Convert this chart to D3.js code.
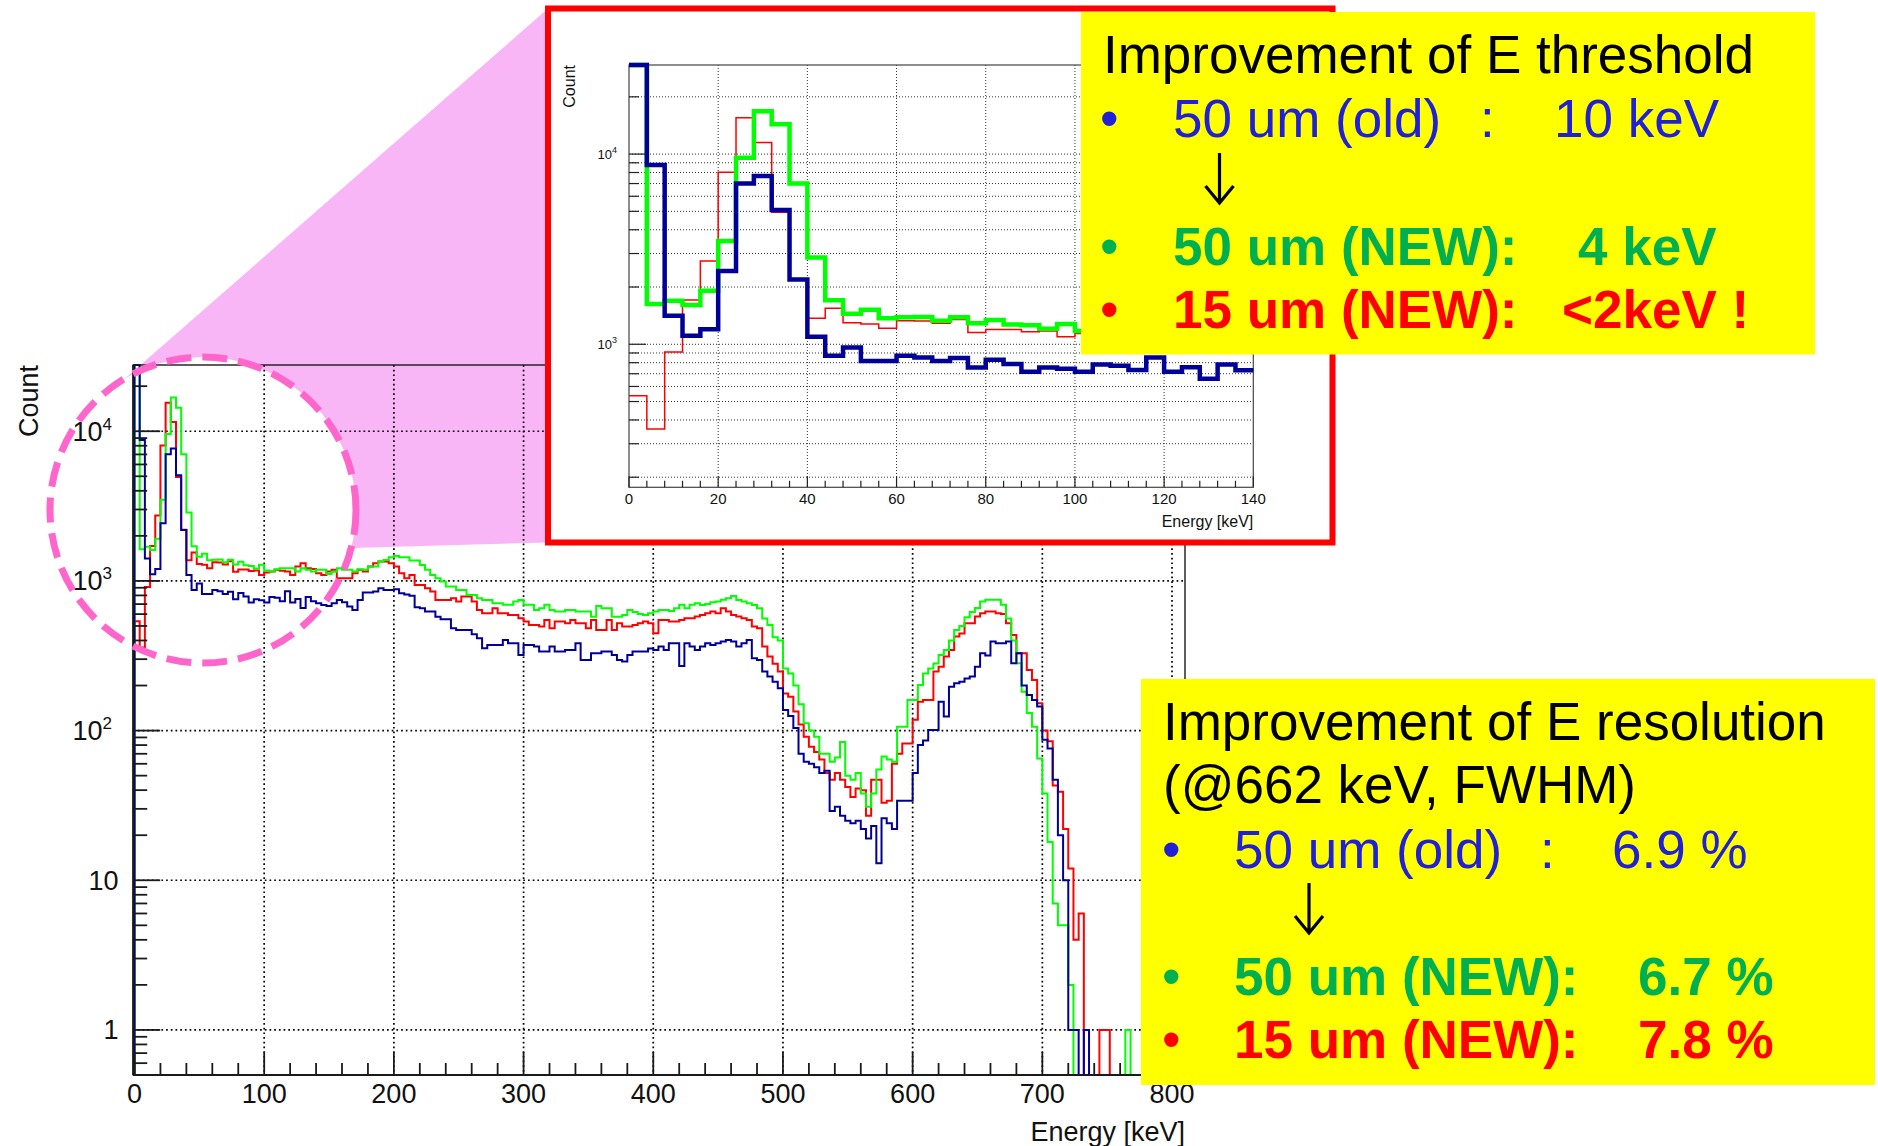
<!DOCTYPE html>
<html>
<head>
<meta charset="utf-8">
<title>Energy spectra – threshold and resolution</title>
<script src="https://cdn.jsdelivr.net/npm/d3@7"></script>
<style>
  html, body { margin: 0; padding: 0; background: #fff; }
  svg { display: block; }
  text { font-family: "Liberation Sans", Arial, Helvetica, sans-serif; }
</style>
</head>
<body>
<svg id="fig" width="1878" height="1146"></svg>
<script>
// ---------------------------------------------------------------
// Spectrum data: counts per 4 keV bin, bins start at 0 keV (200 bins).
// ---------------------------------------------------------------
const binWidthKeV = 4;

// 50 um pixel, old readout
const countsOld50 = [
  35000, 8750, 1413, 1109, 1200, 2427, 7010, 7660, 5080, 2190,   //   0
  1094, 871, 962, 817, 817, 871, 853, 817, 846, 755,             //  40
  830, 788, 717, 755, 743, 717, 782, 771, 732, 853,              //  80
  717, 758, 658, 782, 730, 709, 690, 681, 709, 746,              // 120
  720, 674, 640, 746, 836, 836, 850, 893, 870, 870,              // 160
  880, 827, 810, 795, 667, 656, 624, 624, 577, 554,              // 200
  554, 482, 470, 470, 470, 440, 414, 355, 373, 373,              // 240
  373, 403, 383, 383, 320, 373, 373, 364, 337, 337,              // 280
  364, 337, 337, 346, 346, 383, 296, 296, 328, 328,              // 320
  337, 337, 320, 296, 290, 320, 337, 337, 337, 354,              // 360
  346, 364, 346, 383, 383, 270, 383, 364, 346, 364,              // 400
  383, 373, 383, 393, 403, 393, 364, 383, 403, 304,              // 440
  296, 248, 230, 212, 192, 137, 125, 104, 70, 62,                // 480
  60, 57, 52, 54, 29, 31, 27, 25, 24, 25,                        // 520
  22, 19, 23, 13, 26, 24, 22, 34, 34, 34,                        // 560
  52, 80, 86, 101, 101, 156, 124, 196, 207, 212,                 // 600
  223, 230, 267, 328, 318, 393, 383, 383, 394, 282,              // 640
  329, 200, 173, 160, 145, 87, 76, 47, 20, 10,                   // 680
  1, 1, 0, 1, 0, 0, 0, 0, 0, 0,                                  // 720
  0, 0, 0, 0, 0, 0, 0, 0, 0, 0                                   // 760
];

// 50 um pixel, new readout
const countsNew50 = [
  35000, 1630, 1694, 1608, 1913, 3490, 9570, 16820, 14330, 7010, //   0
  2860, 1702, 1449, 1520, 1372, 1385, 1390, 1330, 1385, 1288,     //  40
  1342, 1272, 1260, 1208, 1280, 1175, 1155, 1197, 1216, 1216,     //  80
  1216, 1155, 1216, 1185, 1155, 1185, 1185, 1114, 1150, 1216,     // 120
  1185, 1185, 1155, 1197, 1185, 1247, 1247, 1346, 1381, 1440,     // 160
  1469, 1440, 1440, 1370, 1370, 1279, 1185, 1097, 1040, 990,      // 200
  917, 917, 871, 871, 806, 806, 766, 746, 746, 709,               // 240
  709, 692, 692, 728, 746, 692, 692, 640, 657, 692,               // 280
  640, 624, 624, 640, 640, 624, 624, 624, 577, 681,               // 320
  657, 657, 577, 577, 593, 640, 620, 600, 593, 608,               // 360
  625, 640, 640, 630, 657, 692, 657, 692, 709, 690,               // 400
  700, 720, 728, 747, 766, 794, 746, 728, 709, 690,               // 440
  657, 560, 508, 420, 400, 260, 241, 200, 150, 112,               // 480
  100, 91, 70, 70, 62, 66, 84, 50, 47, 52,                        // 520
  38, 31, 38, 55, 67, 64, 62, 106, 106, 160,                      // 560
  160, 202, 241, 260, 281, 320, 346, 400, 470, 500,               // 600
  571, 620, 660, 728, 747, 747, 747, 692, 560, 400,               // 640
  282, 182, 131, 106, 65, 38, 18, 7, 5, 5,                        // 680
  2, 0, 0, 0, 0, 0, 0, 0, 0, 0,                                   // 720
  0, 1, 0, 0, 0, 0, 0, 0, 0, 0                                    // 760
];

// 15 um pixel, new readout
const countsNew15 = [
  537, 359, 912, 1710, 2740, 8030, 15520, 11510, 4940, 2200,     //   0
  1372, 1547, 1297, 1280, 1215, 1330, 1325, 1288, 1351, 1153,    //  40
  1194, 1194, 1163, 1175, 1094, 1140, 1155, 1185, 1170, 1155,    //  80
  1097, 1247, 1312, 1216, 1200, 1125, 1097, 1155, 1185, 1042,    // 120
  1042, 1042, 1125, 1185, 1155, 1247, 1312, 1346, 1346, 1312,    // 160
  1247, 1125, 1042, 1097, 940, 940, 893, 849, 746, 746,          // 200
  746, 766, 728, 786, 786, 728, 640, 608, 608, 657,              // 240
  608, 608, 593, 593, 563, 535, 508, 508, 495, 548,              // 280
  482, 535, 535, 521, 548, 521, 521, 482, 548, 470,              // 320
  470, 548, 470, 521, 495, 495, 508, 521, 535, 521,              // 360
  447, 548, 548, 535, 535, 548, 563, 563, 578, 593,              // 400
  608, 624, 608, 657, 624, 593, 578, 562, 549, 495,              // 440
  482, 364, 312, 280, 248, 177, 168, 134, 110, 91,               // 480
  78, 72, 64, 52, 47, 52, 47, 42, 36, 41,                        // 520
  40, 27, 47, 47, 33, 34, 60, 70, 82, 82,                        // 560
  118, 156, 160, 160, 248, 267, 312, 346, 425, 446,              // 600
  521, 521, 578, 608, 624, 624, 608, 600, 521, 435,              // 640
  329, 329, 254, 218, 152, 100, 85, 43, 39, 22,                  // 680
  12, 4, 6, 0, 0, 0, 1, 1, 0, 0,                                 // 720
  0, 0, 0, 0, 0, 0, 0, 0, 0, 0                                   // 760
];

// Axis ticks
const mainEnergyTicks = [0, 100, 200, 300, 400, 500, 600, 700, 800];
const mainCountTicks = [1, 10, 100, 1000, 10000];
const insetEnergyTicks = [0, 20, 40, 60, 80, 100, 120, 140];
const insetCountTicks = [1000, 10000];

// Annotation text
const detectorLabels = ["50 um (old)", "50 um (NEW)", "15 um (NEW)"];
const thresholdValues = ["10 keV", "4 keV", "<2keV !"];
const resolutionValues = ["6.9 %", "6.7 %", "7.8 %"];

// ---------------------------------------------------------------
// Styling
// ---------------------------------------------------------------
const seriesStyle = [
  { counts: countsNew15, color: "#ff0000", mainWidth: 2, insetWidth: 1.5 },
  { counts: countsNew50, color: "#00ff00", mainWidth: 2, insetWidth: 4.5 },
  { counts: countsOld50, color: "#000099", mainWidth: 2, insetWidth: 4.5 }
];
const textColors = ["#2020d8", "#00b050", "#ff0000"];
const axisColor = "#1a1a1a";
const boxFont = 53;

const svg = d3.select("#fig");
svg.append("rect").attr("width", 1878).attr("height", 1146).attr("fill", "#ffffff");

// ---------------------------------------------------------------
// Scales
// ---------------------------------------------------------------
const xMain = d3.scaleLinear().domain([-1, 810]).range([133.2, 1185]);
const yMain = d3.scaleLog().domain([0.5, 27700]).range([1075, 365]);
const xIn = d3.scaleLinear().domain([0, 140]).range([629, 1253.3]);
const yIn = d3.scaleLog().domain([177, 29400]).range([487.3, 65]);

const insetBox = { x0: 548, y0: 8.5, x1: 1332.5, y1: 542.5 };

// Log-axis ticks: every m*10^e inside the domain
function logTicks(domain) {
  const out = [];
  const e0 = Math.floor(Math.log10(domain[0]));
  const e1 = Math.ceil(Math.log10(domain[1]));
  for (let e = e0; e <= e1; e++) {
    for (let m = 1; m <= 9; m++) {
      const v = +(m * Math.pow(10, e)).toPrecision(6);
      if (v >= domain[0] * 0.999 && v <= domain[1]) out.push({ v, major: m === 1 });
    }
  }
  return out;
}

// ROOT-style step outline of a histogram
function stepPath(counts, x, y, eMax, fromBase) {
  const [lo, hi] = y.domain();
  const clamp = v => Math.min(hi, Math.max(lo, v));
  const pts = [];
  if (fromBase) pts.push([x(0), y(lo)]);
  counts.forEach((c, i) => {
    const e0 = i * binWidthKeV;
    const e1 = e0 + binWidthKeV;
    if (e0 >= eMax) return;
    const yy = y(clamp(c));
    pts.push([x(e0), yy], [x(Math.min(e1, eMax)), yy]);
  });
  return d3.line()(pts);
}

// ---------------------------------------------------------------
// Highlight of the low-energy region and its connector to the zoom panel
// ---------------------------------------------------------------
const focus = { cx: 203, cy: 510, r: 153 };
svg.append("path")
  .attr("d", `M${insetBox.x0},${insetBox.y0} L105,396 L352,548 L${insetBox.x0},${insetBox.y1} Z`)
  .attr("fill", "#f9b6f6");
svg.append("circle")
  .attr("cx", focus.cx).attr("cy", focus.cy).attr("r", focus.r)
  .attr("fill", "#ffffff");

// ---------------------------------------------------------------
// Main spectrum
// ---------------------------------------------------------------
const main = svg.append("g");
const mx0 = xMain.range()[0], mx1 = xMain.range()[1];
const my0 = yMain.range()[0], my1 = yMain.range()[1];

// dotted grid
main.append("g").selectAll("line").data(mainEnergyTicks.filter(d => d > 0)).join("line")
  .attr("x1", d => xMain(d)).attr("x2", d => xMain(d))
  .attr("y1", my1).attr("y2", my0)
  .attr("stroke", "#000").attr("stroke-width", 1.7).attr("stroke-dasharray", "1.7,3");
main.append("g").selectAll("line").data(mainCountTicks).join("line")
  .attr("x1", mx0).attr("x2", mx1)
  .attr("y1", d => yMain(d)).attr("y2", d => yMain(d))
  .attr("stroke", "#000").attr("stroke-width", 1.7).attr("stroke-dasharray", "1.7,3");

// histograms
main.append("g").selectAll("path").data(seriesStyle).join("path")
  .attr("d", s => stepPath(s.counts, xMain, yMain, 800, true))
  .attr("fill", "none").attr("stroke", s => s.color)
  .attr("stroke-width", s => s.mainWidth).attr("stroke-linejoin", "miter");

// frame
main.append("rect")
  .attr("x", mx0).attr("y", my1).attr("width", mx1 - mx0).attr("height", my0 - my1)
  .attr("fill", "none").attr("stroke", axisColor).attr("stroke-width", 1.4);
main.append("line").attr("x1", mx0).attr("x2", mx0).attr("y1", my1).attr("y2", my0)
  .attr("stroke", axisColor).attr("stroke-width", 2);
main.append("line").attr("x1", mx0).attr("x2", mx1).attr("y1", my0).attr("y2", my0)
  .attr("stroke", axisColor).attr("stroke-width", 2);

// y ticks
main.append("g").selectAll("line").data(logTicks(yMain.domain())).join("line")
  .attr("x1", mx0).attr("x2", d => mx0 + (d.major ? 27 : 14))
  .attr("y1", d => yMain(d.v)).attr("y2", d => yMain(d.v))
  .attr("stroke", axisColor).attr("stroke-width", 1.8);

// x ticks (major every 100 keV, minor every 20 keV)
const xMinor = d3.range(0, 801, 20);
main.append("g").selectAll("line").data(xMinor).join("line")
  .attr("x1", d => xMain(d)).attr("x2", d => xMain(d))
  .attr("y1", my0).attr("y2", d => my0 - (d % 100 === 0 ? 23 : 12))
  .attr("stroke", axisColor).attr("stroke-width", 1.8);

// x tick labels
main.append("g").selectAll("text").data(mainEnergyTicks).join("text")
  .attr("x", d => xMain(d)).attr("y", 1103)
  .attr("text-anchor", "middle").attr("font-size", 27).attr("fill", "#111")
  .text(d => d);

// y tick labels (powers of ten)
const yLab = main.append("g");
mainCountTicks.forEach(v => {
  const e = Math.round(Math.log10(v));
  const t = yLab.append("text")
    .attr("y", yMain(v) + 9.5).attr("text-anchor", "end")
    .attr("font-size", 27).attr("fill", "#111");
  if (e <= 1) {
    t.attr("x", 118.5).text(String(v));
  } else {
    t.attr("x", 112).text("10");
    t.append("tspan").attr("dy", -11).attr("font-size", 17).text(String(e));
  }
});

// axis titles
main.append("text")
  .attr("transform", `translate(38,${my1}) rotate(-90)`)
  .attr("text-anchor", "end").attr("font-size", 27).attr("fill", "#111")
  .text("Count");
main.append("text")
  .attr("x", mx1).attr("y", 1141).attr("text-anchor", "end")
  .attr("font-size", 27).attr("fill", "#111")
  .text("Energy [keV]");

// dashed outline of the highlighted region
svg.append("circle")
  .attr("cx", focus.cx).attr("cy", focus.cy).attr("r", focus.r)
  .attr("fill", "none").attr("stroke", "#ff66cc").attr("stroke-width", 7)
  .attr("stroke-dasharray", "25,11");

// ---------------------------------------------------------------
// Zoom panel: 0–140 keV
// ---------------------------------------------------------------
const inset = svg.append("g");
inset.append("rect")
  .attr("x", insetBox.x0).attr("y", insetBox.y0)
  .attr("width", insetBox.x1 - insetBox.x0).attr("height", insetBox.y1 - insetBox.y0)
  .attr("fill", "#ffffff").attr("stroke", "#ff0000").attr("stroke-width", 6);

const ix0 = xIn.range()[0], ix1 = xIn.range()[1];
const iy0 = yIn.range()[0], iy1 = yIn.range()[1];
const inTicks = logTicks(yIn.domain());

inset.append("g").selectAll("line").data(insetEnergyTicks.filter(d => d > 0 && d < 140)).join("line")
  .attr("x1", d => xIn(d)).attr("x2", d => xIn(d)).attr("y1", iy1).attr("y2", iy0)
  .attr("stroke", "#333").attr("stroke-width", 1).attr("stroke-dasharray", "1,2");
inset.append("g").selectAll("line").data(inTicks).join("line")
  .attr("x1", ix0).attr("x2", ix1).attr("y1", d => yIn(d.v)).attr("y2", d => yIn(d.v))
  .attr("stroke", "#333").attr("stroke-width", 1).attr("stroke-dasharray", "1,2");

inset.append("rect")
  .attr("x", ix0).attr("y", iy1).attr("width", ix1 - ix0).attr("height", iy0 - iy1)
  .attr("fill", "none").attr("stroke", "#444").attr("stroke-width", 1.2);

inset.append("g").selectAll("path").data(seriesStyle).join("path")
  .attr("d", s => stepPath(s.counts, xIn, yIn, 140, false))
  .attr("fill", "none").attr("stroke", s => s.color)
  .attr("stroke-width", s => s.insetWidth).attr("stroke-linejoin", "miter");

inset.append("g").selectAll("line").data(inTicks).join("line")
  .attr("x1", ix0).attr("x2", d => ix0 + (d.major ? 17 : 10))
  .attr("y1", d => yIn(d.v)).attr("y2", d => yIn(d.v))
  .attr("stroke", "#222").attr("stroke-width", 1.2);
inset.append("g").selectAll("line").data(d3.range(0, 141, 4)).join("line")
  .attr("x1", d => xIn(d)).attr("x2", d => xIn(d))
  .attr("y1", iy0).attr("y2", d => iy0 - (d % 20 === 0 ? 11 : 6.5))
  .attr("stroke", "#222").attr("stroke-width", 1.2);

inset.append("g").selectAll("text").data(insetEnergyTicks).join("text")
  .attr("x", d => xIn(d)).attr("y", 503.5).attr("text-anchor", "middle")
  .attr("font-size", 15).attr("fill", "#111").text(d => d);
insetCountTicks.forEach(v => {
  const t = inset.append("text")
    .attr("x", 617).attr("y", yIn(v) + 5).attr("text-anchor", "end")
    .attr("font-size", 13).attr("fill", "#111").text("10");
  t.append("tspan").attr("dy", -6).attr("font-size", 9).text(String(Math.round(Math.log10(v))));
});
inset.append("text")
  .attr("transform", `translate(575,${iy1}) rotate(-90)`)
  .attr("text-anchor", "end").attr("font-size", 16).attr("fill", "#111").text("Count");
inset.append("text")
  .attr("x", ix1).attr("y", 527).attr("text-anchor", "end")
  .attr("font-size", 16).attr("fill", "#111").text("Energy [keV]");

// ---------------------------------------------------------------
// Summary boxes
// ---------------------------------------------------------------
function downArrow(g, cx, yTop, yBot) {
  g.append("path")
    .attr("d", `M${cx},${yTop} L${cx},${yBot - 1} M${cx - 14},${yBot - 17} L${cx},${yBot} L${cx + 14},${yBot - 17}`)
    .attr("fill", "none").attr("stroke", "#000").attr("stroke-width", 3.2)
    .attr("stroke-linejoin", "miter");
}

function summaryRows(g, rows, values, layout) {
  rows.forEach((r, i) => {
    const old = i === 0;
    const weight = old ? "normal" : "bold";
    const base = layout.baselines[i];
    g.append("text").attr("x", layout.bulletX).attr("y", base)
      .attr("font-size", boxFont).attr("fill", textColors[i]).text("\u2022");
    g.append("text").attr("x", layout.labelX).attr("y", base)
      .attr("font-size", boxFont).attr("font-weight", weight).attr("fill", textColors[i])
      .text(old ? r : r + ":");
    if (old) {
      g.append("text").attr("x", layout.colonX).attr("y", base)
        .attr("font-size", boxFont).attr("fill", textColors[i]).text(":");
    }
    g.append("text").attr("x", layout.valueX[i]).attr("y", base)
      .attr("font-size", boxFont).attr("font-weight", weight).attr("fill", textColors[i])
      .text(values[i]);
  });
}

// threshold box
const boxA = svg.append("g");
boxA.append("rect").attr("x", 1081).attr("y", 12).attr("width", 734).attr("height", 342.5)
  .attr("fill", "#ffff00");
boxA.append("text").attr("x", 1103).attr("y", 73).attr("font-size", boxFont).attr("fill", "#000")
  .text("Improvement of E threshold");
summaryRows(boxA, detectorLabels, thresholdValues, {
  baselines: [137, 265, 328], bulletX: 1100, labelX: 1173, colonX: 1480,
  valueX: [1554, 1578, 1562]
});
downArrow(boxA, 1219.5, 153, 203);

// resolution box
const boxB = svg.append("g");
boxB.append("rect").attr("x", 1141).attr("y", 679).attr("width", 734).attr("height", 406)
  .attr("fill", "#ffff00");
boxB.append("text").attr("x", 1163).attr("y", 740).attr("font-size", boxFont).attr("fill", "#000")
  .text("Improvement of E resolution");
boxB.append("text").attr("x", 1163).attr("y", 803).attr("font-size", boxFont).attr("fill", "#000")
  .text("(@662 keV, FWHM)");
summaryRows(boxB, detectorLabels, resolutionValues, {
  baselines: [868, 995, 1058], bulletX: 1162, labelX: 1234, colonX: 1540,
  valueX: [1612, 1638, 1638]
});
downArrow(boxB, 1309, 883, 933);
</script>
</body>
</html>
